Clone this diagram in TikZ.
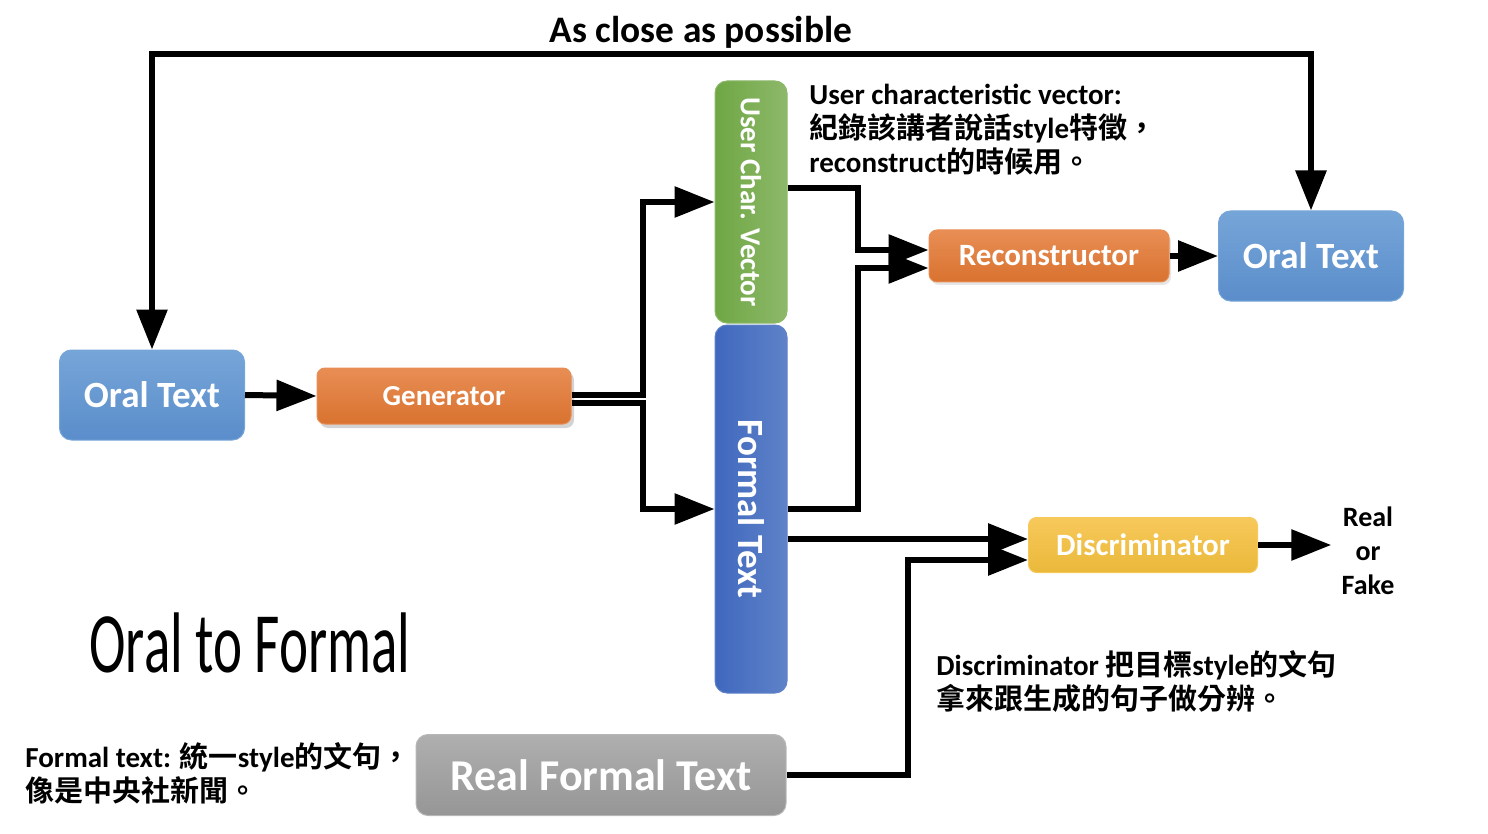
\documentclass[tikz,border=0pt]{standalone}
\usepackage{fontspec}
\usepackage{xcolor}
\usepackage{graphicx}
\setmainfont{Carlito}
\newfontfamily\cjk{Noto Sans CJK TC}[BoldFont={Noto Sans CJK TC Bold}]
\newfontfamily\condensed{Carlito}[FakeStretch=0.64]
\newcommand{\zh}[1]{{\cjk #1}}
\usetikzlibrary{arrows.meta,positioning,shadows}

\definecolor{oralhi}{HTML}{76A5D8}
\definecolor{orallo}{HTML}{5A8DCA}
\definecolor{genhi}{HTML}{E88E55}
\definecolor{genlo}{HTML}{D9722F}
\definecolor{ucvlo}{HTML}{6FA744}
\definecolor{ucvhi}{HTML}{8DB86A}
\definecolor{ftxlo}{HTML}{3F68BE}
\definecolor{ftxhi}{HTML}{5F82C8}
\definecolor{dischi}{HTML}{F7C95B}
\definecolor{disclo}{HTML}{EAB83A}
\definecolor{rfthi}{HTML}{AFAFAF}
\definecolor{rftlo}{HTML}{969696}

\begin{document}
\begin{tikzpicture}[x=0.5pt,y=-0.5pt,
        box/.style={rounded corners=6pt, text=white, align=center, inner sep=0pt, line width=0.5pt},
        oralbox/.style={box, top color=oralhi, bottom color=orallo, draw=oralhi,
            minimum width=92.5pt, minimum height=45pt, font=\bfseries\fontsize{18.5}{20}\selectfont},
        netbox/.style={box, rounded corners=4pt, font=\bfseries\fontsize{15.5}{17}\selectfont},
        barbox/.style={box, minimum width=36pt},
        note/.style={anchor=north west, align=left, inner sep=0pt, font=\bfseries\fontsize{14.5}{17}\selectfont},
        flow/.style={line width=3pt, -{Triangle[length=20pt,width=15pt]}}]
    \useasboundingbox (0,0) rectangle (1488,834);

    \node[oralbox] (oralL) at (152,395) {Oral Text};
    \node[netbox, top color=genhi, bottom color=genlo, draw=genhi, minimum width=127pt, minimum height=28pt,
        font=\bfseries\fontsize{14.5}{16}\selectfont,
        drop shadow={opacity=0.35, shadow xshift=1.5pt, shadow yshift=-2pt}] (gen) at (444,396) {Generator};
    \node[barbox, left color=ucvlo, right color=ucvhi, draw=ucvhi, minimum height=121pt,
        font=\bfseries\fontsize{14.5}{16}\selectfont] (ucv) at (751,202) {\rotatebox{-90}{User Char. Vector}};
    \node[barbox, left color=ftxlo, right color=ftxhi, draw=ftxhi, minimum height=184pt,
        font=\bfseries\fontsize{18.5}{20}\selectfont] (ftx) at (751,509) {\rotatebox{-90}{Formal Text}};
    \node[netbox, top color=genhi, bottom color=genlo, draw=genhi, minimum width=120pt, minimum height=26pt,
        drop shadow={opacity=0.2, shadow xshift=1pt, shadow yshift=-1.5pt}] (recon) at (1049,256) {Reconstructor};
    \node[oralbox] (oralR) at (1311,256) {Oral Text};
    \node[netbox, top color=dischi, bottom color=disclo, draw=dischi, minimum width=114.5pt, minimum height=27.5pt] (disc) at (1143,545) {Discriminator};
    \node[box, top color=rfthi, bottom color=rftlo, draw=rfthi!90!white, minimum width=185pt, minimum height=40.5pt,
        font=\bfseries\fontsize{22}{24}\selectfont] (rft) at (601,775) {Real Formal Text};
    \node[align=center, inner sep=5pt, font=\bfseries\fontsize{14}{17}\selectfont] (rof) at (1368,551) {Real\\ or\\ Fake};

    \node[font=\bfseries\fontsize{18.7}{21}\selectfont] (close) at (701,32) {As close as possible};
    \node[font=\condensed\fontsize{43}{46}\selectfont] (title) at (250,643) {Oral to Formal};
    \node[note] (ucvnote) at (809,84) {User characteristic vector:\\ \zh{紀錄該講者說話}style\zh{特徵，}\\ reconstruct\zh{的時候用。}};
    \node[note] (discnote) at (936,650) {Discriminator \zh{把目標}style\zh{的文句}\\ \zh{拿來跟生成的句子做分辨。}};
    \node[note] (ftxnote) at (25,742) {Formal text: \zh{統一}style\zh{的文句，}\\ \zh{像是中央社新聞。}};

    \coordinate (top) at (0,54);
    \coordinate (split) at (643,0);
    \coordinate (merge) at (858,0);
    \coordinate (join) at (908,0);
    \coordinate (rin1) at ([yshift=3pt]recon.west);
    \coordinate (rin2) at ([yshift=-6pt]recon.west);
    \coordinate (din1) at ([yshift=3pt]disc.west);
    \coordinate (din2) at ([yshift=-7.5pt]disc.west);

    \draw[flow, {Triangle[length=20pt,width=15pt]}-{Triangle[length=20pt,width=15pt]}]
        (oralR.north) -- (oralR.north |- top) -- (oralL.north |- top) -- (oralL.north);
    \draw[flow] (oralL.east) -- (gen.west);
    \draw[flow] ([yshift=0.5pt]gen.east) -| (split |- ucv.west) -- (ucv.west);
    \draw[flow] ([yshift=-3.5pt]gen.east) -| (split |- ftx.west) -- (ftx.west);
    \draw[flow] ([yshift=7pt]ucv.east) -| (merge |- rin1) -- (rin1);
    \draw[flow] (ftx.east) -| (merge |- rin2) -- (rin2);
    \draw[flow] (recon.east) -- (oralR.west);
    \draw[flow] (ftx.east |- din1) -- (din1);
    \draw[flow] (rft.east) -| (join |- din2) -- (din2);
    \draw[flow] (disc.east) -- (disc.east -| rof.west);
\end{tikzpicture}
\end{document}
